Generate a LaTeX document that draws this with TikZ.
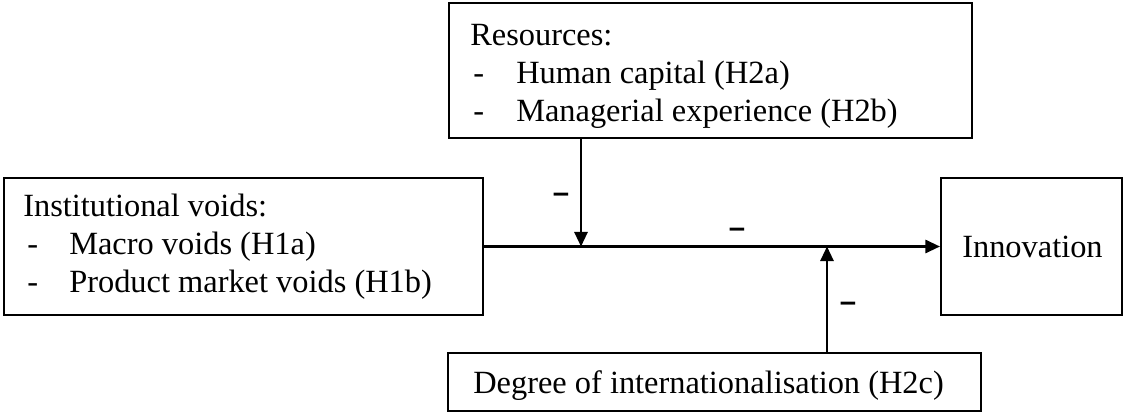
\documentclass[tikz,border=0pt]{standalone}
\usepackage{fontspec}
\setmainfont{Liberation Serif}
\newfontfamily\signfont{Liberation Sans}
\usetikzlibrary{arrows.meta}
\tikzset{
  box/.style={draw, line width=1.6pt, inner sep=0pt, fill=white},
  txt/.style={anchor=base west, inner sep=0pt, font=\fontsize{24.3}{28}\selectfont},
  conn/.style={line width=1.6pt},
  arr/.style={conn, -{Triangle[length=11pt,width=10pt]}},
  sign/.style={inner sep=0pt, font=\signfont\bfseries\fontsize{22}{26}\selectfont}
}
\begin{document}
\begin{tikzpicture}[x=0.75pt,y=-0.75pt]
\useasboundingbox (0,0) rectangle (1124,415);
% boxes
\node[box, minimum width=523*0.75pt, minimum height=135*0.75pt] (res) at (710.5,70.5) {};
\node[box, minimum width=479*0.75pt, minimum height=137*0.75pt] (inst) at (243.5,246.5) {};
\node[box, minimum width=181*0.75pt, minimum height=137*0.75pt] (innov) at (1031.5,246.5) {};
\node[box, minimum width=533*0.75pt, minimum height=58*0.75pt] (deg) at (714.5,382) {};
% texts
\node[txt] (r0) at (470,45) {Resources:};
\node[txt] (r1d) at (473,83) {-};
\node[txt] (r1) at (516,83) {Human capital (H2a)};
\node[txt] (r2d) at (473,121) {-};
\node[txt] (r2) at (516,121) {Managerial experience (H2b)};
\node[txt] (i0) at (23,216) {Institutional voids:};
\node[txt] (i1d) at (27,254) {-};
\node[txt] (i1) at (69,254) {Macro voids (H1a)};
\node[txt] (i2d) at (27,292) {-};
\node[txt] (i2) at (69,292) {Product market voids (H1b)};
\node[txt] (nv) at (962,257) {Innovation};
\node[txt] (dg) at (473,393) {Degree of internationalisation (H2c)};
% connectors
\coordinate (j1) at (581,246.5);
\coordinate (j2) at (827,246.5);
\draw[arr] (inst.east) -- (innov.west);
\draw[arr] (res.south -| j1) -- (j1);
\draw[arr] (deg.north -| j2) -- (j2);
% signs
\node[sign] (s1) at (561,198) {–};
\node[sign] (s2) at (737,233) {–};
\node[sign] (s3) at (848,307) {–};
\end{tikzpicture}
\end{document}
